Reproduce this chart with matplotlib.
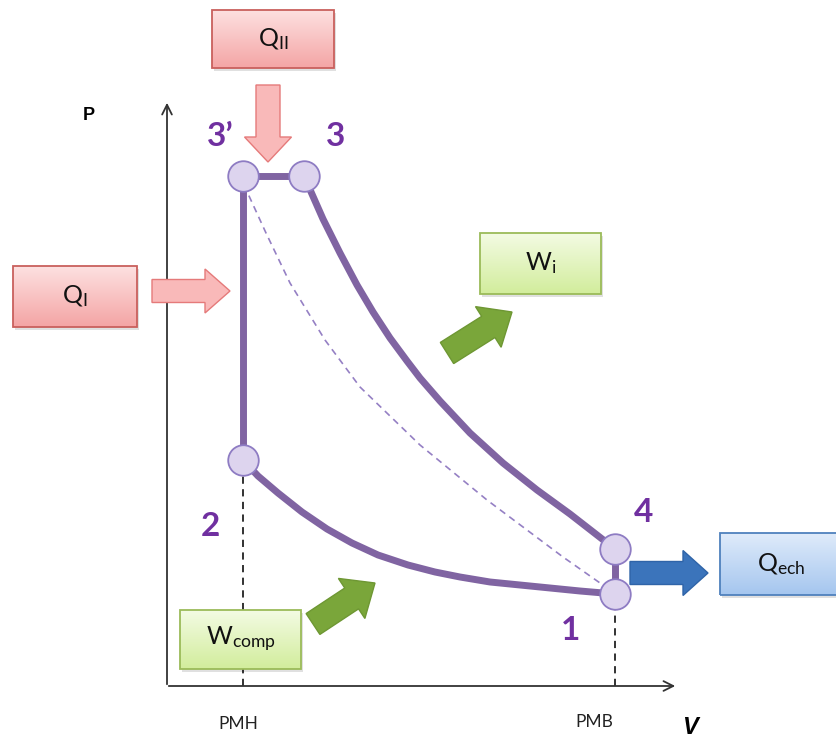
import numpy as np
import matplotlib
matplotlib.use('Agg')
import matplotlib.pyplot as plt
from matplotlib.patches import Rectangle, FancyArrow

plt.rcParams['font.family'] = ['Lato', 'DejaVu Sans']

# cycle state points (V, P), arbitrary units
state_names = ['1', '2', '3\u2019', '3', '4']
state_V = [4.48, 0.76, 0.76, 1.37, 4.48]
state_P = [0.92, 2.26, 5.10, 5.10, 1.37]

# compression 2 -> 1
comp_V = [0.76, 0.91, 1.11, 1.35, 1.60, 1.85, 2.11, 2.41, 2.68, 2.93, 3.23, 3.63, 4.13, 4.48]
comp_P = [2.26, 2.10, 1.93, 1.74, 1.57, 1.43, 1.31, 1.21, 1.14, 1.09, 1.04, 1.00, 0.95, 0.92]

# expansion 3 -> 4
exp_V = [1.37, 1.56, 1.73, 1.90, 2.06, 2.23, 2.40, 2.53, 2.73, 3.03, 3.36, 3.70, 4.03, 4.48]
exp_P = [5.10, 4.67, 4.33, 4.01, 3.74, 3.48, 3.25, 3.08, 2.85, 2.53, 2.23, 1.96, 1.72, 1.37]

# dashed reference curve 3' -> 1
ref_V = [0.77, 0.99, 1.23, 1.58, 1.93, 2.53, 3.20, 3.96, 4.43]
ref_P = [5.01, 4.53, 4.03, 3.46, 2.99, 2.41, 1.86, 1.29, 0.96]

tick_labels = ['PMH', 'PMB']

PURPLE = '#8064a2'
LABEL = '#7030a0'

fig = plt.figure(figsize=(8.37, 7.42), dpi=100)
ax = fig.add_axes([0, 0, 1, 1])
ax.axis('off')


def grad_box(x0, y0, x1, y1, top, bottom, edge, text):
    # soft shadow
    ax.add_patch(Rectangle((x0 + 0.02, y0 - 0.03), x1 - x0, y1 - y0,
                           fc='#000000', alpha=0.12, ec='none', zorder=3))
    rect = Rectangle((x0, y0), x1 - x0, y1 - y0, fc='none', ec=edge, lw=1.3, zorder=5)
    ax.add_patch(rect)
    c0 = np.array(matplotlib.colors.to_rgb(top))
    c1 = np.array(matplotlib.colors.to_rgb(bottom))
    t = np.linspace(0, 1, 64)[:, None]
    img = (c0 * (1 - t) + c1 * t)[:, None, :]
    im = ax.imshow(img, extent=(x0, x1, y0, y1), origin='upper', aspect='auto', zorder=4)
    im.set_clip_path(rect)
    ax.text((x0 + x1) / 2, (y0 + y1) / 2, text, ha='center', va='center',
            fontsize=18, color='#111111', zorder=6)


def block_arrow(x, y, dx, dy, fc, ec, w=0.23, hw=0.46, hl=0.25):
    ax.add_patch(FancyArrow(x, y, dx, dy, width=w, head_width=hw, head_length=hl,
                            length_includes_head=True, fc=fc, ec=ec, lw=1.0, zorder=4))


# axes of the diagram
ax.annotate('', xy=(0, 5.86), xytext=(0, -0.01),
            arrowprops=dict(arrowstyle='->,head_length=0.7,head_width=0.35', lw=1.3, color='#333333'))
ax.annotate('', xy=(5.11, 0), xytext=(-0.01, 0),
            arrowprops=dict(arrowstyle='->,head_length=0.7,head_width=0.35', lw=1.3, color='#333333'))
ax.text(-0.78, 5.71, 'P', fontsize=13, fontweight='bold', ha='center', va='center',
        family=['Liberation Sans', 'DejaVu Sans'])
ax.text(5.23, -0.42, 'V', fontsize=17, fontweight='bold', style='italic', ha='center', va='center',
        family=['Liberation Sans', 'DejaVu Sans'])

# dead centres
v_pmh, v_pmb = state_V[1], state_V[0]
ax.plot([v_pmh, v_pmh], [0, state_P[1]], ls=(0, (4, 3)), lw=1.3, color='#222222', zorder=1)
ax.plot([v_pmb, v_pmb], [0, state_P[0]], ls=(0, (4, 3)), lw=1.3, color='#222222', zorder=1)
ax.text(v_pmh - 0.05, -0.38, tick_labels[0], fontsize=12.5, ha='center', va='center', color='#222222')
ax.text(v_pmb - 0.21, -0.36, tick_labels[1], fontsize=12.5, ha='center', va='center', color='#222222')

# reference curve
ax.plot(ref_V, ref_P, ls=(0, (4, 3)), lw=1.2, color='#9580c4', zorder=2)

# cycle
kw = dict(color=PURPLE, lw=5, solid_capstyle='round', solid_joinstyle='round', zorder=3)
ax.plot(comp_V, comp_P, **kw)
ax.plot(exp_V, exp_P, **kw)
ax.plot([state_V[1], state_V[2], state_V[3]], [state_P[1], state_P[2], state_P[3]], **kw)
ax.plot([state_V[4], state_V[0]], [state_P[4], state_P[0]], **kw)
ax.plot(state_V, state_P, 'o', ms=22, mfc='#ddd4ee', mec='#8e7cc3', mew=1.3, ls='none', zorder=7)

label_pos = [(4.04, 0.56), (0.43, 1.59), (0.53, 5.49), (1.69, 5.49), (4.77, 1.74)]
for name, (lx, ly) in zip(state_names, label_pos):
    ax.text(lx, ly, name, fontsize=24, fontweight='bold', color=LABEL, ha='center', va='center')

# heat and work boxes
grad_box(0.45, 6.18, 1.67, 6.76, '#fde0e0', '#f4a5a5', '#c9605d', r'$\mathregular{Q_{II}}$')
grad_box(-1.54, 3.59, -0.30, 4.20, '#fde0e0', '#f4a5a5', '#c9605d', r'$\mathregular{Q_{I}}$')
grad_box(3.13, 3.92, 4.34, 4.53, '#f3fbe3', '#d2ed9c', '#9bbb59', r'$\mathregular{W_{i}}$')
grad_box(0.13, 0.17, 1.34, 0.76, '#f3fbe3', '#d2ed9c', '#9bbb59', r'$\mathregular{W_{comp}}$')
grad_box(5.53, 0.91, 6.75, 1.53, '#dfebfa', '#a5c6ef', '#4f81bd', r'$\mathregular{Q_{ech}}$')

block_arrow(1.01, 6.01, 0, -0.77, '#f9b9b9', '#e57a7a', w=0.24, hw=0.47)
block_arrow(-0.15, 3.95, 0.78, 0, '#f9b9b9', '#e57a7a', w=0.23, hw=0.44)
block_arrow(2.80, 3.33, 0.65, 0.41, '#7aa63a', '#6e9733', w=0.25, hw=0.48, hl=0.28)
block_arrow(1.46, 0.62, 0.62, 0.41, '#7aa63a', '#6e9733', w=0.25, hw=0.48, hl=0.28)
block_arrow(4.63, 1.13, 0.78, 0, '#3b74bb', '#2f64a8', w=0.23, hw=0.45)

ax.set_xlim(-1.67, 6.70)
ax.set_ylim(-0.56, 6.86)

fig.savefig('out.png', dpi=100)
